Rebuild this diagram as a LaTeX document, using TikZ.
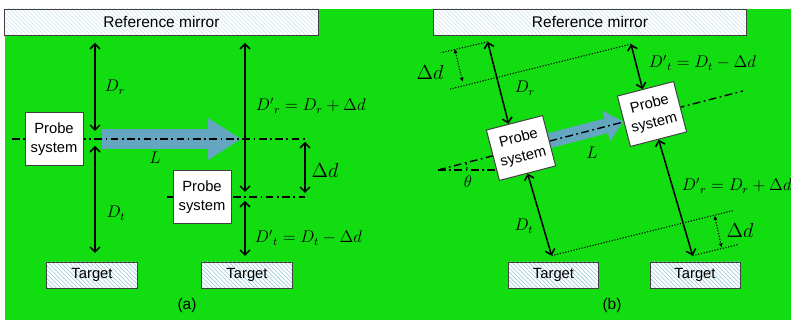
\documentclass[tikz,border=0pt]{standalone}
\usepackage[no-math]{fontspec}
\setmainfont{Liberation Sans}
\usetikzlibrary{arrows.meta,positioning,calc,patterns}
\definecolor{bggreen}{RGB}{17,221,17}
\definecolor{hatchblue}{RGB}{150,200,218}
\definecolor{hatchpale}{RGB}{205,228,238}
\definecolor{beamblue}{RGB}{100,166,192}
\pgfdeclarelayer{back}
\pgfdeclarelayer{mid}
\pgfsetlayers{back,mid,main}

\begin{document}
\begin{tikzpicture}[x=0.025cm, y=-0.025cm,
  mirror/.style={draw=black!75, line width=0.7pt, preaction={fill=white},
    pattern=north west lines, pattern color=hatchpale,
    minimum width=7.83cm, minimum height=0.65cm, font=\fontsize{11}{13}\selectfont},
  target/.style={mirror, pattern color=hatchblue, minimum width=2.25cm,
    font=\fontsize{10.5}{12}\selectfont},
  probe/.style={draw=black!75, line width=0.7pt, fill=white, align=center,
    minimum width=1.45cm, minimum height=1.3cm, inner sep=1pt,
    font=\fontsize{10.5}{13.5}\selectfont},
  dim/.style={line width=1.1pt,
    {Straight Barb[length=3.5pt,width=7pt]}-{Straight Barb[length=3.5pt,width=7pt]}},
  axisline/.style={line width=1pt, dash pattern=on 5.5pt off 2.5pt on 1.2pt off 2.5pt},
  guide/.style={line width=0.8pt, dash pattern=on 0.8pt off 1.2pt},
  smalldim/.style={guide, {Latex[length=3pt,width=3pt]}-{Latex[length=3pt,width=3pt]}},
  beam/.style={draw=beamblue, line width=0.5cm,
    -{Triangle[width=1.05cm,length=0.825cm,line width=0pt]}},
  beamsmall/.style={draw=beamblue, line width=0.375cm,
    -{Triangle[width=0.8cm,length=0.45cm,line width=0pt]}},
  lab/.style={font=\large},
  deltalab/.style={font=\fontsize{14}{16}\selectfont},
  caption/.style={font=\fontsize{11}{13}\selectfont}]

  \useasboundingbox (0,0) rectangle (791,320);
  \begin{pgfonlayer}{back}
    \fill[white] (0,0) rectangle (791,320);
    \fill[bggreen] (5,9) rectangle (791,320);
  \end{pgfonlayer}

  % Mirrors, probes and targets
  \node[mirror] (mirrorA) at (161.5,22) {Reference mirror};
  \node[mirror] (mirrorB) at (590,22) {Reference mirror};
  \node[probe] (probeA) at (54,139) {Probe\\system};
  \node[probe] (probeB) at (202,197) {Probe\\system};
  \node[probe, rotate=14.5] (probeC) at (521,148) {Probe\\system};
  \node[probe, rotate=14.5] (probeD) at (652,114) {Probe\\system};
  \node[target] (targetA) at (92,275) {Target};
  \node[target] (targetB) at (247,275) {Target};
  \node[target] (targetC) at (553.5,275) {Target};
  \node[target] (targetD) at (695,275) {Target};

  % (a) coordinates
  \coordinate (axA0) at (12,139);
  \coordinate (axA1) at (305,139);
  \coordinate (axB0) at (167,197);
  \coordinate (axB1) at (305,197);
  \coordinate (beamA0) at (102,139);
  \coordinate (beamA1) at (241,139);
  \coordinate (drA1) at (95,43);
  \coordinate (drA2) at (95,131);
  \coordinate (dtA1) at (95,146);
  \coordinate (dtA2) at (95,253);
  \coordinate (drB1) at (245,43);
  \coordinate (drB2) at (245,192);
  \coordinate (dtB1) at (245,201);
  \coordinate (dtB2) at (245,256);
  \coordinate (ddA1) at (305,142);
  \coordinate (ddA2) at (305,193);

  % (b) coordinates
  \coordinate (axC0) at (438,170);
  \coordinate (axC1) at (743,91);
  \coordinate (hzC) at (505,170);
  \coordinate (arcC) at (467,170);
  \coordinate (topC) at ($(probeC.north west)!0.4!(probeC.north east)$);
  \coordinate (topD) at ($(probeD.north west)!0.45!(probeD.north east)$);
  \coordinate (drC1) at ($(topC)+(-21,-82)$);
  \coordinate (dtD1) at ($(topD)+(-11.5,-45)$);
  \coordinate (dtC2) at ($(probeC.south)+(24,82)$);
  \coordinate (drD2) at ($(probeD.south)+(34,116)$);
  \coordinate (ddC1) at ($(drC1)+(-33,7)$);
  \coordinate (ddC2) at ($(ddC1)+(8,33)$);
  \coordinate (ddD1) at ($(dtC2)+(163,-40)$);
  \coordinate (ddD2) at ($(drD2)+(29,-8)$);

  % Beams
  \begin{pgfonlayer}{back}
    \draw[beam] (beamA0) -- (beamA1);
    \draw[beamsmall] (probeC.east) -- (probeD.west);
  \end{pgfonlayer}

  % Optical axes
  \begin{pgfonlayer}{mid}
    \draw[axisline] (axA0) -- (axA1);
    \draw[axisline] (axB0) -- (axB1);
    \draw[axisline] (axC0) -- (axC1);
    \draw[axisline] (axC0) -- (hzC);
    \draw[line width=0.6pt, dash pattern=on 2pt off 1.5pt] (arcC) arc[start angle=0, end angle=14.5, radius=0.725cm];
  \end{pgfonlayer}

  % Distances (a)
  \draw[dim] (drA1) -- (drA2);
  \draw[dim] (dtA1) -- (dtA2);
  \draw[dim] (drB1) -- (drB2);
  \draw[dim] (dtB1) -- (dtB2);
  \draw[dim] (ddA1) -- (ddA2);

  % Distances (b)
  \draw[guide] (drC1) -- ($(drC1)+(-47,11)$);
  \draw[guide] (dtD1) -- ($(dtD1)+(-181,45)$);
  \draw[guide] (dtC2) -- ($(dtC2)+(181,-45)$);
  \draw[guide] (drD2) -- ($(drD2)+(45,-11)$);
  \draw[smalldim] (ddC1) -- (ddC2);
  \draw[smalldim] (ddD1) -- (ddD2);
  \draw[dim] (drC1) -- (topC);
  \draw[dim] (dtD1) -- (topD);
  \draw[dim] (probeC.south) -- (dtC2);
  \draw[dim] (probeD.south) -- (drD2);

  % Labels
  \node[lab] (lblDrA) at (115,87) {$D_r$};
  \node[lab] (lblDtA) at (116,213) {$D_t$};
  \node[lab] (lblLA) at (155,158) {$L$};
  \node[lab, anchor=west] (lblDrB) at (251,106) {$D^{\prime}{}_{r} = D_r + \Delta d$};
  \node[lab, anchor=west] (lblDtB) at (250,238) {$D^{\prime}{}_{t} = D_t - \Delta d$};
  \node[deltalab] (lblddA) at (325,170) {$\Delta d$};
  \node[lab] (lblDrC) at (525,88) {$D_r$};
  \node[lab] (lblDtC) at (524,226) {$D_t$};
  \node[lab] (lblLC) at (592,153) {$L$};
  \node[lab] (lblTheta) at (468,182) {$\theta$};
  \node[lab, anchor=west] (lblDtD) at (644,63) {$D^{\prime}{}_{t} = D_t - \Delta d$};
  \node[lab, anchor=west] (lblDrD) at (677,186) {$D^{\prime}{}_{r} = D_r + \Delta d$};
  \node[deltalab] (lblddC) at (430,72) {$\Delta d$};
  \node[deltalab] (lblddD) at (740,230) {$\Delta d$};
  \node[caption] (capA) at (187,305) {(a)};
  \node[caption] (capB) at (612,305) {(b)};
\end{tikzpicture}
\end{document}
